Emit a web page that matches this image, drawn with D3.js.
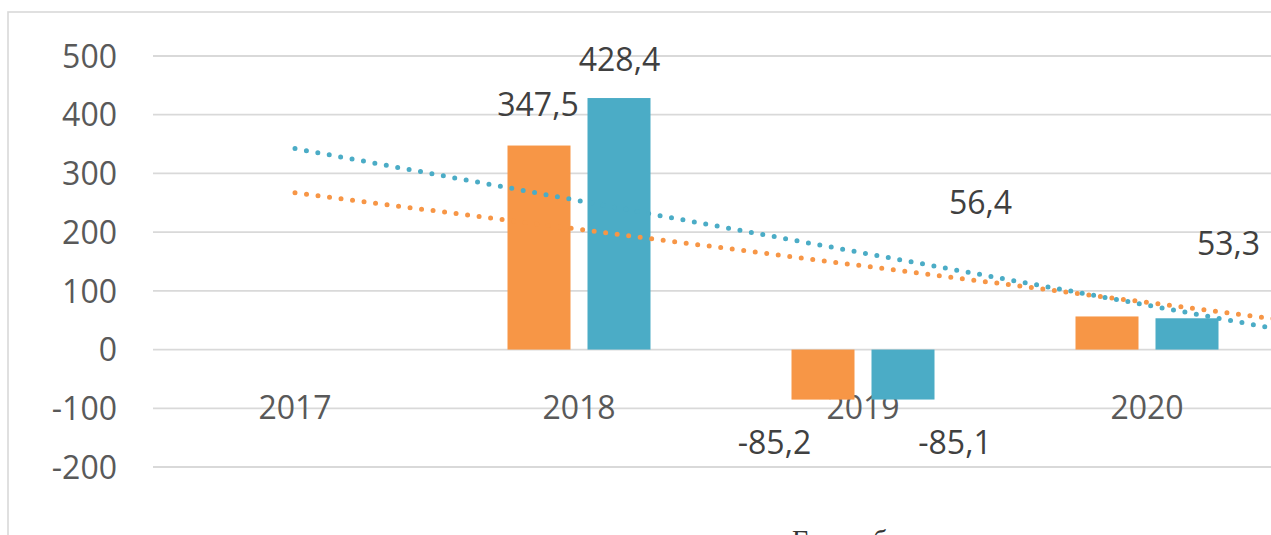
<!DOCTYPE html>
<html>
<head>
<meta charset="utf-8">
<script src="https://cdn.jsdelivr.net/npm/d3@7"></script>
<style>
  html, body { margin: 0; padding: 0; background: #ffffff; overflow: hidden; }
  svg { display: block; }
</style>
</head>
<body>
<svg id="chart" width="1271" height="535"></svg>
<script>
// ---- data ----
const categories = ["2017", "2018", "2019", "2020"];
const seriesNames = ["orange", "blue"];
const orangeValues = [null, 347.5, -85.2, 56.4];
const blueValues = [null, 428.4, -85.1, 53.3];
const orangeLabels = [null, "347,5", "-85,2", "56,4"];
const blueLabels = [null, "428,4", "-85,1", "53,3"];
// trendline values read at each category centre
const orangeTrend = [266.9, 204.7, 142.5, 80.3];
const blueTrend = [342.4, 253.5, 164.6, 75.7];
const yTicks = [-200, -100, 0, 100, 200, 300, 400, 500];
const footerText = "Грузооборот";

// ---- styles ----
const colors = { orange: "#F79646", blue: "#4BACC6" };
const font = "'Open Sans', 'DejaVu Sans', sans-serif";

const svg = d3.select("#chart");
svg.append("rect").attr("width", 1271).attr("height", 535).attr("fill", "#fff");

// outer chart border
svg.append("rect")
  .attr("x", 8).attr("y", 12).attr("width", 1400).attr("height", 700)
  .attr("fill", "none").attr("stroke", "#d9d9d9").attr("stroke-width", 1.6);

const plot = { left: 153, right: 1289 };
const x = d3.scaleBand().domain(categories).range([plot.left, plot.right]).padding(0);
const xs = d3.scaleBand().domain(seriesNames).range([-71.5, 71.5]).paddingInner(0.2125).paddingOuter(0);
const y = d3.scaleLinear().domain([-200, 500]).range([467, 56]);

// gridlines
svg.append("g").selectAll("line").data(yTicks).join("line")
  .attr("x1", plot.left).attr("x2", plot.right)
  .attr("y1", d => y(d)).attr("y2", d => y(d))
  .attr("stroke", "#d9d9d9").attr("stroke-width", 1.8);

// y axis via d3.axisLeft
const yAxis = d3.axisLeft(y).tickValues(yTicks).tickSize(0).tickPadding(0).tickFormat(d => String(d));
const gy = svg.append("g").attr("transform", "translate(117,0)").call(yAxis);
gy.select(".domain").remove();
gy.selectAll("text")
  .attr("font-family", font).attr("font-size", 32).attr("fill", "#595959")
  .attr("dy", "0.35em");

// category labels (Excel placed them at the -100 line)
svg.append("g").selectAll("text").data(categories).join("text")
  .attr("x", d => x(d) + x.bandwidth() / 2)
  .attr("y", y(-100))
  .attr("dy", "0.35em")
  .attr("text-anchor", "middle")
  .attr("font-family", font).attr("font-size", 32).attr("fill", "#595959")
  .text(d => d);

// bars
const seriesData = [
  { name: "orange", values: orangeValues, labels: orangeLabels },
  { name: "blue", values: blueValues, labels: blueLabels }
];
const barData = [];
seriesData.forEach(s => {
  categories.forEach((c, i) => {
    if (s.values[i] !== null) barData.push({ series: s.name, cat: c, i, v: s.values[i], label: s.labels[i] });
  });
});

svg.append("g").selectAll("rect").data(barData).join("rect")
  .attr("x", d => x(d.cat) + x.bandwidth() / 2 + xs(d.series))
  .attr("width", xs.bandwidth())
  .attr("y", d => Math.min(y(d.v), y(0)))
  .attr("height", d => Math.abs(y(d.v) - y(0)))
  .attr("fill", d => colors[d.series]);

// trendlines (dotted), forecast half a period forward
function trendPoints(vals) {
  const pts = vals.map((v, i) => [x(categories[i]) + x.bandwidth() / 2, y(v)]);
  const n = vals.length;
  const slope = vals[n - 1] - vals[n - 2];
  pts.push([plot.right, y(vals[n - 1] + slope * 0.5)]);
  return pts;
}
const line = d3.line();
[["orange", orangeTrend], ["blue", blueTrend]].forEach(([name, vals]) => {
  svg.append("path")
    .attr("d", line(trendPoints(vals)))
    .attr("fill", "none")
    .attr("stroke", colors[name])
    .attr("stroke-width", 5)
    .attr("stroke-linecap", "round")
    .attr("stroke-dasharray", "0 11.6");
});

// data labels (manually positioned in the original)
const labelOffsets = {
  "orange-2018": [-1, -41], "blue-2018": [0.5, -38.5],
  "orange-2019": [-48.5, 43], "blue-2019": [52, 43],
  "orange-2020": [-126.5, -114], "blue-2020": [41.5, -74]
};
svg.append("g").selectAll("text").data(barData).join("text")
  .attr("x", d => x(d.cat) + x.bandwidth() / 2 + xs(d.series) + xs.bandwidth() / 2 + labelOffsets[d.series + "-" + d.cat][0])
  .attr("y", d => y(d.v) + labelOffsets[d.series + "-" + d.cat][1])
  .attr("dy", "0.35em")
  .attr("text-anchor", "middle")
  .attr("font-family", font).attr("font-size", 32).attr("fill", "#404040")
  .text(d => d.label);

// cropped caption at bottom (only the tops of tall letters show in the original)
svg.append("text")
  .attr("x", 792).attr("y", 549)
  .attr("font-family", "'Liberation Serif', 'Times New Roman', serif")
  .attr("font-size", 28).attr("fill", "#333")
  .text(footerText);
</script>
</body>
</html>
